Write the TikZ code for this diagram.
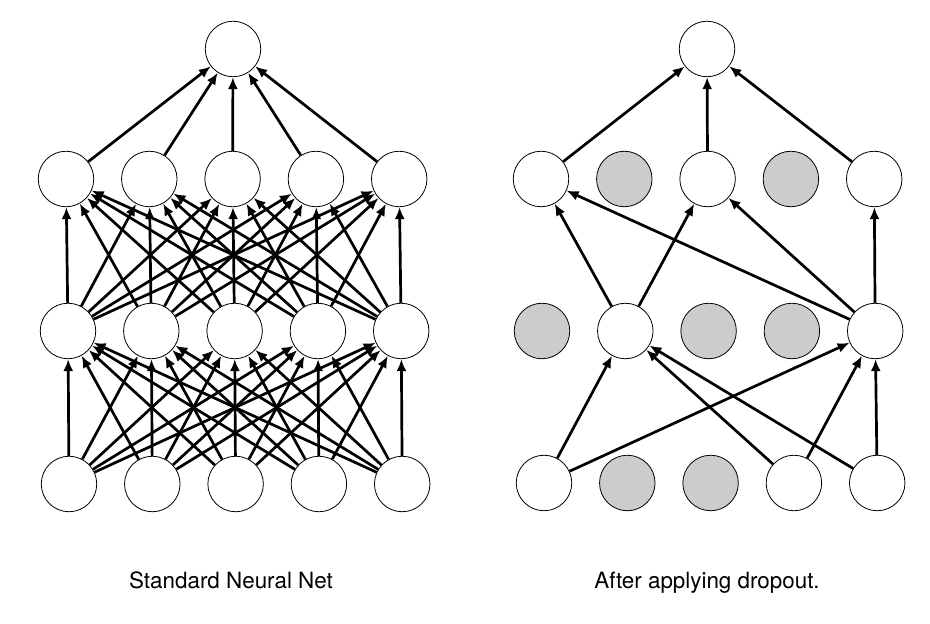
\documentclass[tikz,border=0pt]{standalone}
\usepackage{fontspec}
\setmainfont{TeX Gyre Heros}
\usetikzlibrary{positioning,arrows.meta}
\definecolor{droppedgray}{RGB}{204, 204, 204}

\begin{document}
\begin{tikzpicture}[x=1pt, y=1pt,
neuron/.style={circle, draw=black!100, fill=white, line width=0.8pt, minimum size=55.5pt, inner sep=0pt},
dropped_neuron/.style={circle, draw=black!100, fill=droppedgray!100, line width=0.8pt, minimum size=55.5pt, inner sep=0pt},
arrow/.style={->, line width=2.7pt, >={Latex[length=12pt,width=10pt]}},
caption/.style={anchor=base, font=\fontsize{22.4}{26}\selectfont}
]
\useasboundingbox (0,0) rectangle (930,624);

%Nodes
%Nodes standard net
\node[neuron] 														(std_output_node) at (233,575) {};

\node[neuron] 														(std_hidden_a_node_1) at (66,445) {};
\node[neuron] 														(std_hidden_a_node_2) [right=27pt of std_hidden_a_node_1] {};
\node[neuron] 														(std_hidden_a_node_3) [right=27pt of std_hidden_a_node_2] {};
\node[neuron] 														(std_hidden_a_node_4) [right=27pt of std_hidden_a_node_3] {};
\node[neuron] 														(std_hidden_a_node_5) [right=27pt of std_hidden_a_node_4] {};

\node[neuron] 														(std_hidden_b_node_1) at (68,293) {};
\node[neuron] 														(std_hidden_b_node_2) [right=27pt of std_hidden_b_node_1] {};
\node[neuron] 														(std_hidden_b_node_3) [right=27pt of std_hidden_b_node_2] {};
\node[neuron] 														(std_hidden_b_node_4) [right=27pt of std_hidden_b_node_3] {};
\node[neuron] 														(std_hidden_b_node_5) [right=27pt of std_hidden_b_node_4] {};

\node[neuron] 														(std_input_node_1) at (69,140) {};
\node[neuron] 														(std_input_node_2) [right=27pt of std_input_node_1] {};
\node[neuron] 														(std_input_node_3) [right=27pt of std_input_node_2] {};
\node[neuron] 														(std_input_node_4) [right=27pt of std_input_node_3] {};
\node[neuron] 														(std_input_node_5) [right=27pt of std_input_node_4] {};

%Nodes dropout net
\node[neuron] 														(drop_output_node) at (707,575) {};

\node[neuron] 														(drop_hidden_a_node_1) at (541,445) {};
\node[dropped_neuron] 												(drop_hidden_a_node_2) [right=27pt of drop_hidden_a_node_1] {};
\node[neuron] 														(drop_hidden_a_node_3) [right=27pt of drop_hidden_a_node_2] {};
\node[dropped_neuron] 												(drop_hidden_a_node_4) [right=27pt of drop_hidden_a_node_3] {};
\node[neuron] 														(drop_hidden_a_node_5) [right=27pt of drop_hidden_a_node_4] {};

\node[dropped_neuron] 												(drop_hidden_b_node_1) at (542,293) {};
\node[neuron] 														(drop_hidden_b_node_2) [right=27pt of drop_hidden_b_node_1] {};
\node[dropped_neuron] 												(drop_hidden_b_node_3) [right=27pt of drop_hidden_b_node_2] {};
\node[dropped_neuron] 												(drop_hidden_b_node_4) [right=27pt of drop_hidden_b_node_3] {};
\node[neuron] 														(drop_hidden_b_node_5) [right=27pt of drop_hidden_b_node_4] {};

\node[neuron] 														(drop_input_node_1) at (544,141) {};
\node[dropped_neuron] 												(drop_input_node_2) [right=27pt of drop_input_node_1] {};
\node[dropped_neuron] 												(drop_input_node_3) [right=27pt of drop_input_node_2] {};
\node[neuron] 														(drop_input_node_4) [right=27pt of drop_input_node_3] {};
\node[neuron] 														(drop_input_node_5) [right=27pt of drop_input_node_4] {};

%Captions
\node[caption] 														(std_caption) at (231,35) {Standard Neural Net};
\node[caption] 														(drop_caption) at (707,35) {After applying dropout.};

%Arrow
%Arrow standard net, input to first hidden
\draw [arrow] (std_input_node_1) -- (std_hidden_b_node_1);
\draw [arrow] (std_input_node_1) -- (std_hidden_b_node_2);
\draw [arrow] (std_input_node_1) -- (std_hidden_b_node_3);
\draw [arrow] (std_input_node_1) -- (std_hidden_b_node_4);
\draw [arrow] (std_input_node_1) -- (std_hidden_b_node_5);
\draw [arrow] (std_input_node_2) -- (std_hidden_b_node_1);
\draw [arrow] (std_input_node_2) -- (std_hidden_b_node_2);
\draw [arrow] (std_input_node_2) -- (std_hidden_b_node_3);
\draw [arrow] (std_input_node_2) -- (std_hidden_b_node_4);
\draw [arrow] (std_input_node_2) -- (std_hidden_b_node_5);
\draw [arrow] (std_input_node_3) -- (std_hidden_b_node_1);
\draw [arrow] (std_input_node_3) -- (std_hidden_b_node_2);
\draw [arrow] (std_input_node_3) -- (std_hidden_b_node_3);
\draw [arrow] (std_input_node_3) -- (std_hidden_b_node_4);
\draw [arrow] (std_input_node_3) -- (std_hidden_b_node_5);
\draw [arrow] (std_input_node_4) -- (std_hidden_b_node_1);
\draw [arrow] (std_input_node_4) -- (std_hidden_b_node_2);
\draw [arrow] (std_input_node_4) -- (std_hidden_b_node_3);
\draw [arrow] (std_input_node_4) -- (std_hidden_b_node_4);
\draw [arrow] (std_input_node_4) -- (std_hidden_b_node_5);
\draw [arrow] (std_input_node_5) -- (std_hidden_b_node_1);
\draw [arrow] (std_input_node_5) -- (std_hidden_b_node_2);
\draw [arrow] (std_input_node_5) -- (std_hidden_b_node_3);
\draw [arrow] (std_input_node_5) -- (std_hidden_b_node_4);
\draw [arrow] (std_input_node_5) -- (std_hidden_b_node_5);

%Arrow standard net, first hidden to second hidden
\draw [arrow] (std_hidden_b_node_1) -- (std_hidden_a_node_1);
\draw [arrow] (std_hidden_b_node_1) -- (std_hidden_a_node_2);
\draw [arrow] (std_hidden_b_node_1) -- (std_hidden_a_node_3);
\draw [arrow] (std_hidden_b_node_1) -- (std_hidden_a_node_4);
\draw [arrow] (std_hidden_b_node_1) -- (std_hidden_a_node_5);
\draw [arrow] (std_hidden_b_node_2) -- (std_hidden_a_node_1);
\draw [arrow] (std_hidden_b_node_2) -- (std_hidden_a_node_2);
\draw [arrow] (std_hidden_b_node_2) -- (std_hidden_a_node_3);
\draw [arrow] (std_hidden_b_node_2) -- (std_hidden_a_node_4);
\draw [arrow] (std_hidden_b_node_2) -- (std_hidden_a_node_5);
\draw [arrow] (std_hidden_b_node_3) -- (std_hidden_a_node_1);
\draw [arrow] (std_hidden_b_node_3) -- (std_hidden_a_node_2);
\draw [arrow] (std_hidden_b_node_3) -- (std_hidden_a_node_3);
\draw [arrow] (std_hidden_b_node_3) -- (std_hidden_a_node_4);
\draw [arrow] (std_hidden_b_node_3) -- (std_hidden_a_node_5);
\draw [arrow] (std_hidden_b_node_4) -- (std_hidden_a_node_1);
\draw [arrow] (std_hidden_b_node_4) -- (std_hidden_a_node_2);
\draw [arrow] (std_hidden_b_node_4) -- (std_hidden_a_node_3);
\draw [arrow] (std_hidden_b_node_4) -- (std_hidden_a_node_4);
\draw [arrow] (std_hidden_b_node_4) -- (std_hidden_a_node_5);
\draw [arrow] (std_hidden_b_node_5) -- (std_hidden_a_node_1);
\draw [arrow] (std_hidden_b_node_5) -- (std_hidden_a_node_2);
\draw [arrow] (std_hidden_b_node_5) -- (std_hidden_a_node_3);
\draw [arrow] (std_hidden_b_node_5) -- (std_hidden_a_node_4);
\draw [arrow] (std_hidden_b_node_5) -- (std_hidden_a_node_5);

%Arrow standard net, second hidden to output
\draw [arrow] (std_hidden_a_node_1) -- (std_output_node);
\draw [arrow] (std_hidden_a_node_2) -- (std_output_node);
\draw [arrow] (std_hidden_a_node_3) -- (std_output_node);
\draw [arrow] (std_hidden_a_node_4) -- (std_output_node);
\draw [arrow] (std_hidden_a_node_5) -- (std_output_node);

%Arrow dropout net, input to first hidden
\draw [arrow] (drop_input_node_1) -- (drop_hidden_b_node_2);
\draw [arrow] (drop_input_node_1) -- (drop_hidden_b_node_5);
\draw [arrow] (drop_input_node_4) -- (drop_hidden_b_node_2);
\draw [arrow] (drop_input_node_4) -- (drop_hidden_b_node_5);
\draw [arrow] (drop_input_node_5) -- (drop_hidden_b_node_2);
\draw [arrow] (drop_input_node_5) -- (drop_hidden_b_node_5);

%Arrow dropout net, first hidden to second hidden
\draw [arrow] (drop_hidden_b_node_2) -- (drop_hidden_a_node_1);
\draw [arrow] (drop_hidden_b_node_2) -- (drop_hidden_a_node_3);
\draw [arrow] (drop_hidden_b_node_5) -- (drop_hidden_a_node_1);
\draw [arrow] (drop_hidden_b_node_5) -- (drop_hidden_a_node_3);
\draw [arrow] (drop_hidden_b_node_5) -- (drop_hidden_a_node_5);

%Arrow dropout net, second hidden to output
\draw [arrow] (drop_hidden_a_node_1) -- (drop_output_node);
\draw [arrow] (drop_hidden_a_node_3) -- (drop_output_node);
\draw [arrow] (drop_hidden_a_node_5) -- (drop_output_node);

\end{tikzpicture}
\end{document}
